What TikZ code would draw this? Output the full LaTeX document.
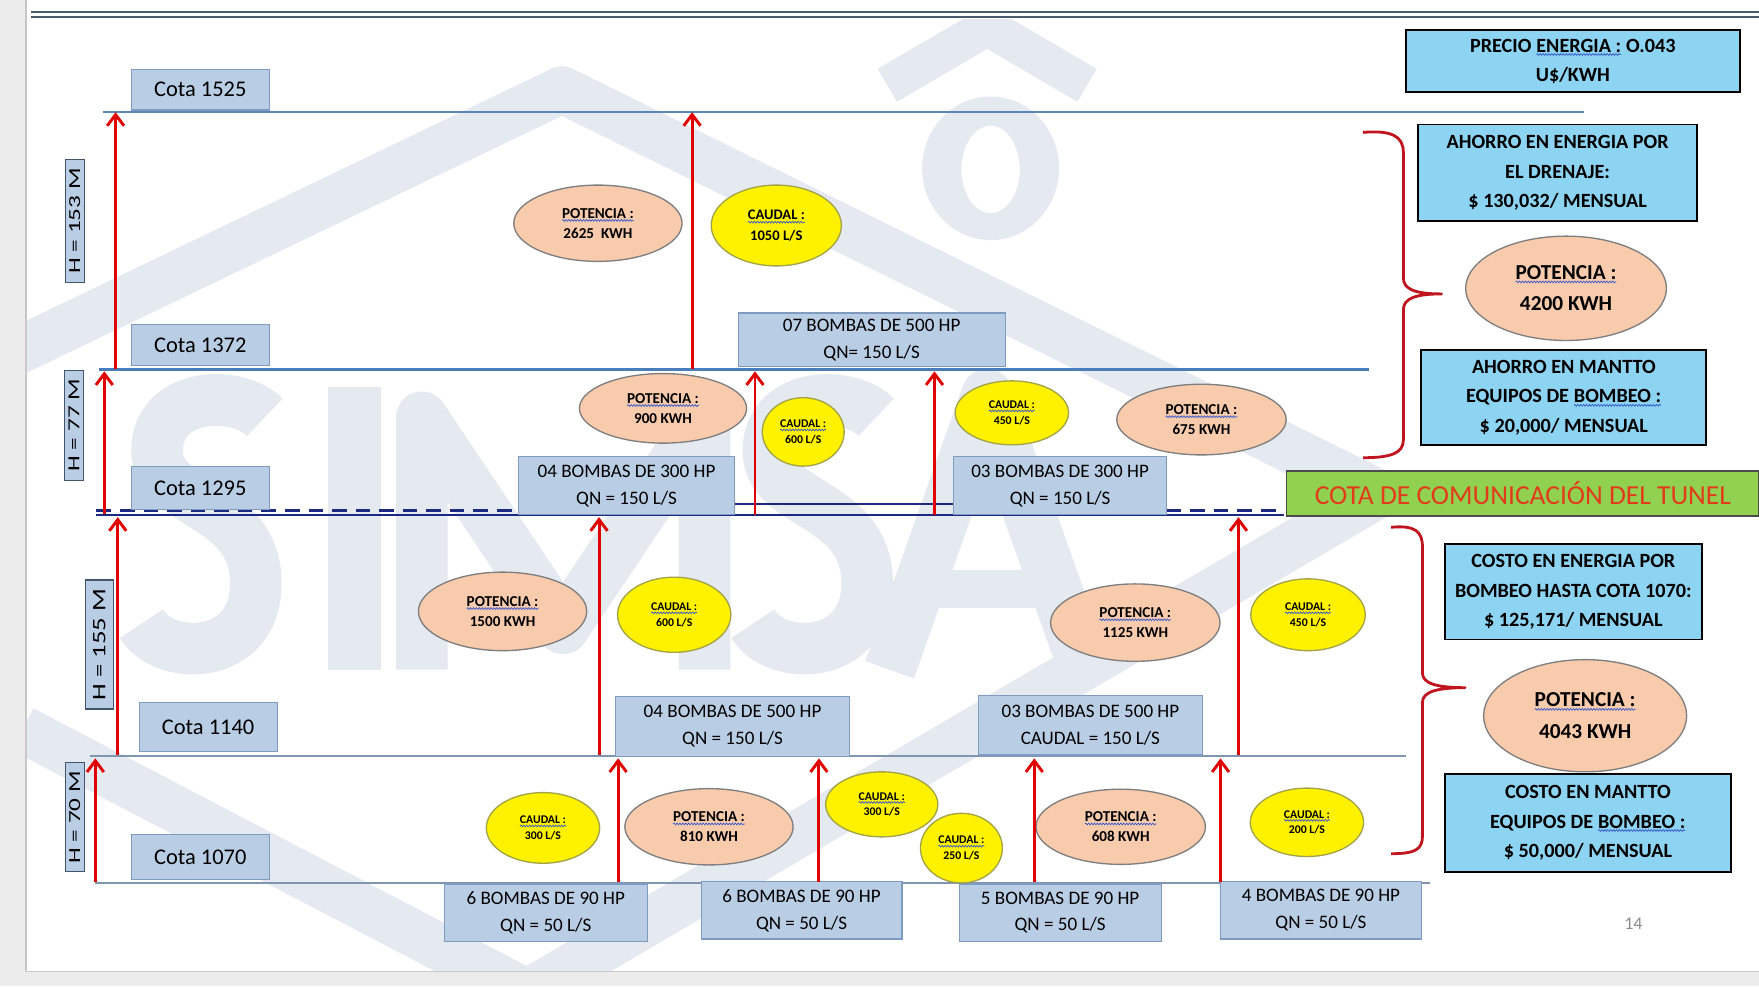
\documentclass[tikz,border=0pt]{standalone}
\usepackage{fontspec}
\setmainfont{Carlito}
\usetikzlibrary{arrows.meta,shapes.geometric,decorations.pathmorphing}

\definecolor{cotablue}{HTML}{B9CDE5}
\definecolor{cotaedge}{HTML}{7F9CC0}
\definecolor{hedge}{HTML}{44546A}
\definecolor{lineblue}{HTML}{5B86B8}
\definecolor{midblue}{HTML}{4A7EBB}
\definecolor{navyline}{HTML}{1B2A80}
\definecolor{greyline}{HTML}{8096B0}
\definecolor{arrowred}{HTML}{E00000}
\definecolor{skybox}{HTML}{8DD3F2}
\definecolor{peach}{HTML}{F8CBAD}
\definecolor{ellgrey}{HTML}{7F7F7F}
\definecolor{yellowedge}{HTML}{A3A348}
\definecolor{tunelgreen}{HTML}{92D050}
\definecolor{tuneltext}{HTML}{E23B1B}
\definecolor{bracered}{HTML}{C0141E}
\definecolor{spellblue}{HTML}{3355CC}
\definecolor{wmark}{HTML}{E5E9F0}
\definecolor{pagegrey}{HTML}{ECECEC}
\definecolor{titleline}{HTML}{4B5B6E}

\def\fs#1#2{\fontsize{#1}{#2}\selectfont}
% wavy spell-check underline
\newcommand{\spell}[1]{\tikz[baseline=(w.base)]{\node[shape=rectangle, draw=none, fill=none,
  inner sep=0pt, outer sep=0pt, minimum width=0pt, minimum height=0pt, rotate=0] (w) {#1};
  \draw[spellblue, line width=0.6pt, decorate, decoration={snake, amplitude=0.8pt, segment length=2.6pt}]
  ([yshift=-2pt]w.south west) -- ([yshift=-2pt]w.south east);}}

\tikzset{
  cotabox/.style={draw=cotaedge, fill=cotablue, line width=1pt, minimum width=123pt, inner sep=0pt, font=\fs{20}{24}},
  bombabox/.style={draw=cotaedge, fill=cotablue, line width=1pt, align=center, inner sep=0pt, font=\fs{17}{24}},
  hbox/.style={draw=hedge, fill=cotablue, line width=1pt, rotate=90, inner sep=0pt, font=\fs{15}{18}},
  potencia/.style={ellipse, draw=ellgrey, fill=peach, line width=1.2pt, align=center, inner sep=0pt, font=\bfseries\fs{13.5}{18}},
  caudal/.style={ellipse, draw=yellowedge, fill=yellow, line width=1.2pt, align=center, inner sep=0pt, font=\bfseries\fs{10.5}{14}},
  resumen/.style={draw=black, line width=1.6pt, fill=skybox, align=center, inner sep=0pt, font=\bfseries\fs{18}{26}},
  pump/.style={draw=arrowred, line width=2.6pt, -{Straight Barb[length=10pt,width=15pt]}},
  llave/.style={draw=bracered, line width=2.5pt, line join=round},
  wm/.style={draw=wmark, line width=42pt, line join=round},
  wmletter/.style={draw=wmark, line width=46pt, line join=round},
}

\begin{document}
\begin{tikzpicture}[x=1pt,y=-1pt]
\useasboundingbox (0,0) rectangle (1568,879);
% page
\fill[white] (0,0) rectangle (1568,879);
\fill[pagegrey] (0,0) rectangle (22,879);
\fill[pagegrey] (0,866) rectangle (1568,879);
\draw[black!22, line width=1.5pt] (23,0) -- (23,866) -- (1568,866);
\draw[titleline, line width=2pt] (28,11) -- (1568,11);
\draw[titleline, line width=1.2pt] (28,15) -- (1568,15);

% watermark
\begin{scope}
\clip (24,17) rectangle (1568,865);
\draw[wm] (20,650) -- (470,885) -- (1230,440) -- (501,80) -- (-20,330);
\fill[wmark, even odd rule] (883,150) ellipse (61pt and 64pt) (883,151) ellipse (26pt and 39pt);
\draw[wmark, line width=34pt] (791,76) -- (880,24) -- (969,76);
% S I M S A
\draw[wmletter] (236,372) .. controls (212,347) and (140,349) .. (140,402)
  .. controls (140,452) and (228,446) .. (228,520) .. controls (228,590) and (146,590) .. (126,556);
\fill[wmark] (292,345) rectangle (340,597);
\draw[wmletter] (376,597) -- (376,372) -- (502,560) -- (628,372) -- (628,597);
\draw[wmletter] (781,372) .. controls (757,347) and (685,349) .. (685,402)
  .. controls (685,452) and (773,446) .. (773,520) .. controls (773,590) and (691,590) .. (671,556);
\draw[wmletter] (793,597) -- (880,352) -- (967,597);
\draw[wmark, line width=34pt] (825,525) -- (935,525);
\end{scope}

% levels
\coordinate (l1525a) at (92,100);  \coordinate (l1525b) at (1412,100);
\coordinate (l1372a) at (88,329);  \coordinate (l1372b) at (1220,329);
\coordinate (l1295a) at (86,459);  \coordinate (l1295b) at (1145,459);
\coordinate (l1140a) at (80,674);  \coordinate (l1140b) at (1253,674);
\coordinate (l1070a) at (85,787);  \coordinate (l1070b) at (1275,787);
\draw[lineblue, line width=1.5pt] (l1525a) -- (l1525b);
\draw[midblue, line width=2.6pt] (l1372a) -- (l1372b);
\draw[navyline, line width=2pt] (l1295a) -- (l1295b);
\draw[greyline, line width=1.5pt] (l1140a) -- (l1140b);
\draw[greyline, line width=1.5pt] (l1070a) -- (l1070b);
\coordinate (d1a) at (86,455); \coordinate (d1b) at (462,455);
\coordinate (d2a) at (1040,455); \coordinate (d2b) at (1144,455);
\coordinate (m1a) at (655,449); \coordinate (m1b) at (851,449);
\draw[navyline, line width=2pt, dash pattern=on 13pt off 8pt] (d1a) -- (d1b);
\draw[navyline, line width=2pt, dash pattern=on 13pt off 8pt] (d2a) -- (d2b);
\draw[navyline, line width=1.8pt] (m1a) -- (m1b);

% cotas
\node[cotabox, minimum height=36pt] (c1525) at (178.5,80) {Cota 1525};
\node[cotabox, minimum height=37pt] (c1372) at (178.5,307.5) {Cota 1372};
\node[cotabox, minimum height=38pt] (c1295) at (178.5,435) {Cota 1295};
\node[cotabox, minimum height=44pt] (c1140) at (185.5,648) {Cota 1140};
\node[cotabox, minimum height=40pt] (c1070) at (178.5,764) {Cota 1070};

\node[hbox, minimum width=110pt, minimum height=17pt] (h153) at (66.5,197) {\scalebox{1.5}[1]{H = 153 M}};
\node[hbox, minimum width=98pt, minimum height=17pt] (h77) at (66,379) {\scalebox{1.5}[1]{H = 77 M}};
\node[hbox, minimum width=115pt, minimum height=25pt, font=\fs{17}{20}] (h155) at (88.5,574.5) {\scalebox{1.4}[1]{H = 155 M}};
\node[hbox, minimum width=97pt, minimum height=17pt] (h70) at (66.5,728.5) {\scalebox{1.5}[1]{H = 70 M}};

% bombas
\node[bombabox, minimum width=238pt, minimum height=48pt] (b7) at (777,303) {07 BOMBAS DE 500 HP\\QN= 150 L/S};
\node[bombabox, minimum width=193pt, minimum height=52pt] (b4a) at (558.5,433) {04 BOMBAS DE 300 HP\\QN = 150 L/S};
\node[bombabox, minimum width=190pt, minimum height=52pt] (b3a) at (945,433) {03 BOMBAS DE 300 HP\\QN = 150 L/S};
\node[bombabox, minimum width=208pt, minimum height=53pt] (b4b) at (653,647.5) {04 BOMBAS DE 500 HP\\QN = 150 L/S};
\node[bombabox, minimum width=200pt, minimum height=53pt] (b3b) at (972,646.5) {03 BOMBAS DE 500 HP\\CAUDAL = 150 L/S};
\node[bombabox, minimum width=181pt, minimum height=51pt] (b6a) at (486.5,813.5) {6 BOMBAS DE 90 HP\\QN = 50 L/S};
\node[bombabox, minimum width=179pt, minimum height=51pt] (b6b) at (714.5,811.5) {6 BOMBAS DE 90 HP\\QN = 50 L/S};
\node[bombabox, minimum width=180pt, minimum height=51pt] (b5) at (945,813.5) {5 BOMBAS DE 90 HP\\QN = 50 L/S};
\node[bombabox, minimum width=179pt, minimum height=51pt] (b4c) at (1177.5,811.5) {4 BOMBAS DE 90 HP\\QN = 50 L/S};

% potencia y caudal
\node[potencia, minimum width=150pt, minimum height=68pt] (p2625) at (533,199) {\spell{POTENCIA :}\\2625\ \ KWH};
\node[caudal, minimum width=116pt, minimum height=72pt, font=\bfseries\fs{13}{18}] (q1050) at (692,201) {\spell{CAUDAL :}\\1050 L/S};
\node[potencia, minimum width=149pt, minimum height=62pt] (p900) at (591,364) {\spell{POTENCIA :}\\900 KWH};
\node[caudal, minimum width=73pt, minimum height=61pt] (q600a) at (716,385) {\spell{CAUDAL :}\\600 L/S};
\node[caudal, minimum width=101pt, minimum height=57pt] (q450a) at (902,368) {\spell{CAUDAL :}\\450 L/S};
\node[potencia, minimum width=151pt, minimum height=63pt] (p675) at (1071,374) {\spell{POTENCIA :}\\675 KWH};
\node[potencia, minimum width=150pt, minimum height=70pt] (p1500) at (448,545) {\spell{POTENCIA :}\\1500 KWH};
\node[caudal, minimum width=101pt, minimum height=67pt] (q600b) at (601,548) {\spell{CAUDAL :}\\600 L/S};
\node[potencia, minimum width=151pt, minimum height=69pt] (p1125) at (1012,555) {\spell{POTENCIA :}\\1125 KWH};
\node[caudal, minimum width=102pt, minimum height=64pt] (q450b) at (1166,548) {\spell{CAUDAL :}\\450 L/S};
\node[caudal, minimum width=101pt, minimum height=63pt] (q300a) at (484,738) {\spell{CAUDAL :}\\300 L/S};
\node[potencia, minimum width=150pt, minimum height=68pt] (p810) at (632,737) {\spell{POTENCIA :}\\810 KWH};
\node[caudal, minimum width=100pt, minimum height=58pt] (q300b) at (786,717) {\spell{CAUDAL :}\\300 L/S};
\node[caudal, minimum width=73pt, minimum height=62pt] (q250) at (857,756) {\spell{CAUDAL :}\\250 L/S};
\node[potencia, minimum width=151pt, minimum height=67pt] (p608) at (999,737) {\spell{POTENCIA :}\\608 KWH};
\node[caudal, minimum width=101pt, minimum height=61pt] (q200) at (1165,733) {\spell{CAUDAL :}\\200 L/S};

% bombeo
\foreach \n/\x/\ya/\yb in {1/103/329/100, 2/617/329/100, 3/93/458/331, 4/673/459/331,
    5/833/459/331, 6/105/673/461, 7/534/673/461, 8/1104/673/461, 9/85/786/676,
    10/551/786/676, 11/730/786/676, 12/922/786/676, 13/1088/786/676}{
  \coordinate (s\n) at (\x,\ya);
  \coordinate (t\n) at (\x,\yb);
  \draw[pump] (s\n) -- (t\n);
}

% resumen
\node[resumen, minimum width=298pt, minimum height=55pt] (precio) at (1402,54.5) {PRECIO \spell{ENERGIA :} O.043\\U\$/KWH};
\node[resumen, minimum width=249pt, minimum height=86pt] (ahorroE) at (1388.5,154) {AHORRO EN ENERGIA POR\\EL DRENAJE:\\\$ 130,032/ MENSUAL};
\node[potencia, minimum width=179pt, minimum height=93pt, font=\bfseries\fs{19}{28}] (p4200) at (1396,257) {\spell{POTENCIA :}\\4200 KWH};
\node[resumen, minimum width=254pt, minimum height=85pt] (ahorroM) at (1394,354.5) {AHORRO EN MANTTO\\EQUIPOS DE \spell{BOMBEO :}\\\$ 20,000/ MENSUAL};
\node[draw=black!70, line width=1.2pt, fill=tunelgreen, text=tuneltext, inner sep=0pt,
  minimum width=421pt, minimum height=40pt, font=\fs{24.5}{28}] (tunel) at (1357.5,440) {COTA DE COMUNICACIÓN DEL TUNEL};
\node[resumen, minimum width=229pt, minimum height=85pt] (costoE) at (1402.5,527.5) {COSTO EN ENERGIA POR\\BOMBEO HASTA COTA 1070:\\\$ 125,171/ MENSUAL};
\node[potencia, minimum width=181pt, minimum height=100pt, font=\bfseries\fs{19}{28}] (p4043) at (1413,638) {\spell{POTENCIA :}\\4043 KWH};
\node[resumen, minimum width=255pt, minimum height=87pt] (costoM) at (1415.5,733.5) {COSTO EN MANTTO\\EQUIPOS DE \spell{BOMBEO :}\\\$ 50,000/ MENSUAL};

% llaves
\draw[llave] (1215,118) .. controls (1240,116) and (1251,121) .. (1251,136) -- (1251,248)
  .. controls (1251,258) and (1262,262) .. (1285,262) .. controls (1262,262) and (1251,266) .. (1251,276)
  -- (1251,392) .. controls (1251,404) and (1240,408) .. (1215,408);
\draw[llave] (1240,470) .. controls (1262,468) and (1268,474) .. (1268,488) -- (1268,600)
  .. controls (1268,609) and (1280,613) .. (1306,613) .. controls (1280,613) and (1268,617) .. (1268,626)
  -- (1268,745) .. controls (1268,757) and (1262,761) .. (1240,761);

\node[text=black!45, font=\fs{16}{18}] (pag) at (1456,823) {14};
\end{tikzpicture}
\end{document}
